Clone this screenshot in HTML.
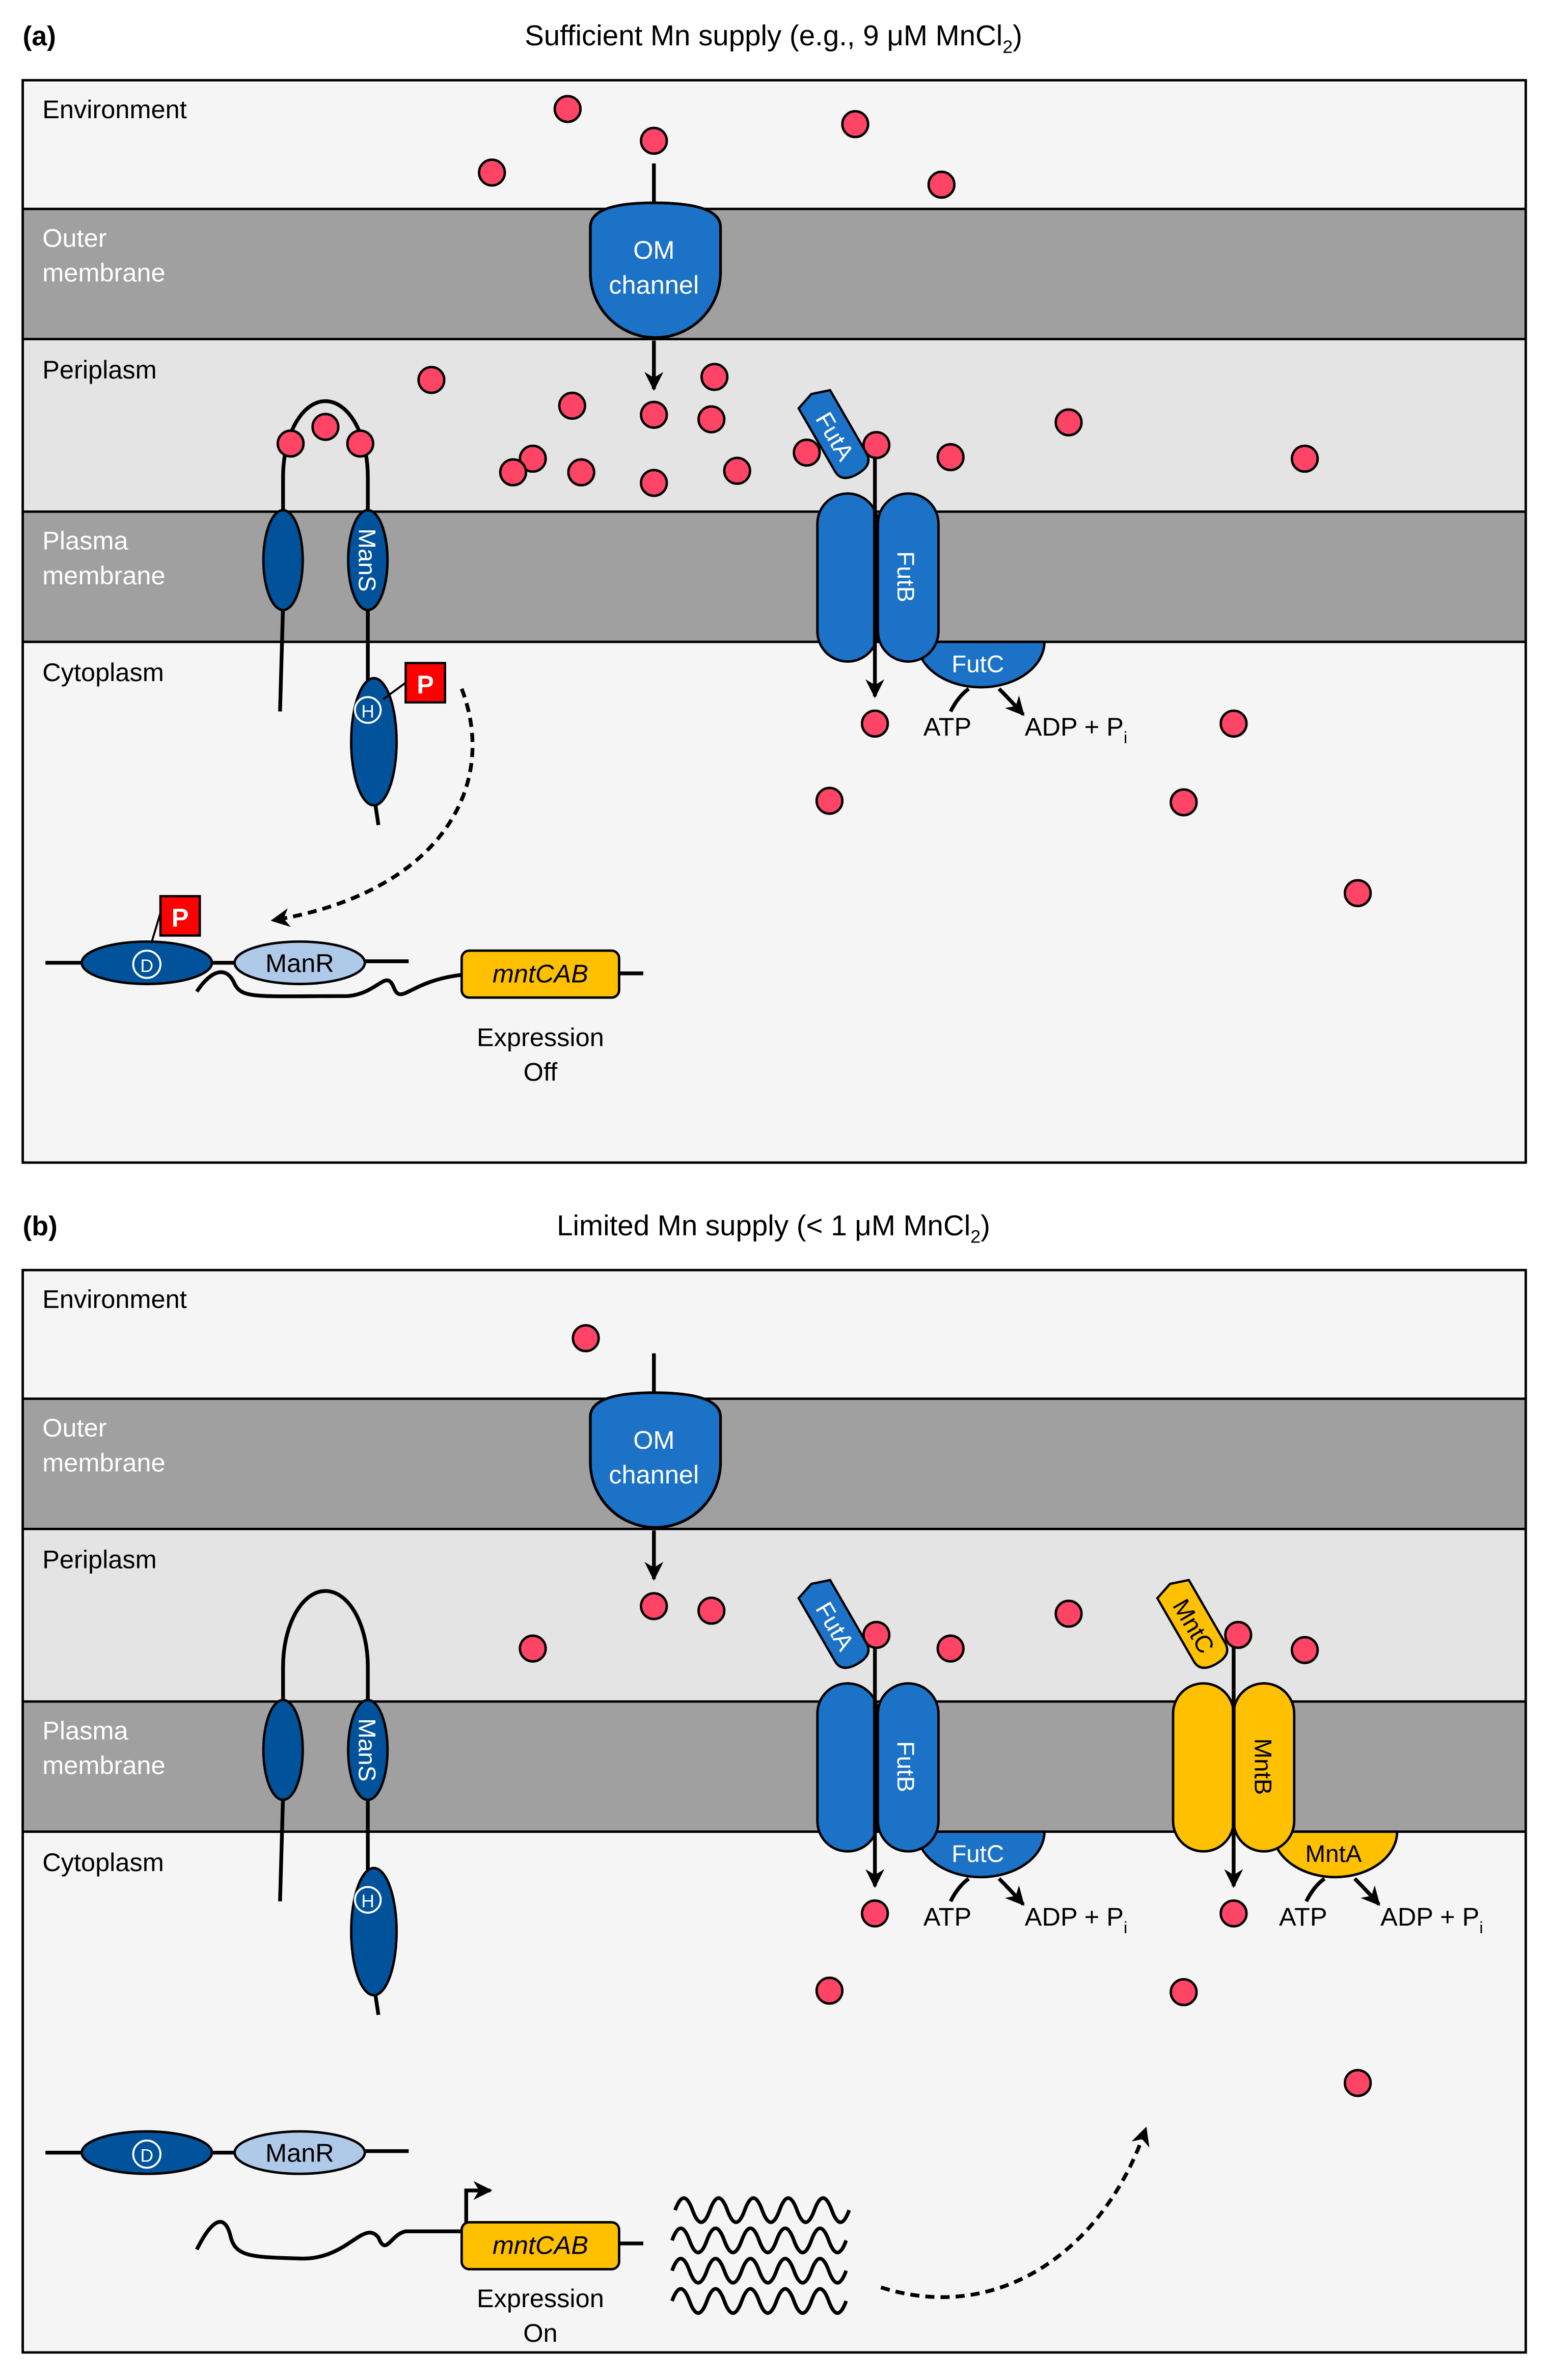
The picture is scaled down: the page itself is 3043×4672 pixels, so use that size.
<!DOCTYPE html>
<html><head><meta charset="utf-8"><style>html,body{margin:0;padding:0;background:#fff}svg{display:block}text{font-family:"Liberation Sans",sans-serif}</style></head><body>
<svg width="3043" height="4672" viewBox="0 0 1024 1572.2" xmlns="http://www.w3.org/2000/svg">
<defs>
<marker id="ah" viewBox="0 0 10 10" refX="9" refY="5" markerWidth="5" markerHeight="5" orient="auto"><path d="M0,0 L10,5 L0,10 L3,5 Z" fill="#000"/></marker>
<g id="dot"><circle r="8.5" fill="#ff4466" stroke="#000" stroke-width="1.6"/></g>
<path id="wave" d="M0,0 q5.75,-16 11.5,0 t11.5,0 t11.5,0 t11.5,0 t11.5,0 t11.5,0 t11.5,0 t11.5,0 t11.5,0 t11.5,0" fill="none" stroke="#000" stroke-width="2.4"/>
<g id="base">
<rect x="15" y="53" width="993" height="715" fill="#f5f5f5"/>
<rect x="15" y="138" width="993" height="86" fill="#a0a0a0"/>
<rect x="15" y="224" width="993" height="114" fill="#e4e4e4"/>
<rect x="15" y="338" width="993" height="86" fill="#a0a0a0"/>
<g stroke="#000" stroke-width="1.6"><line x1="15" y1="138" x2="1008" y2="138"/><line x1="15" y1="224" x2="1008" y2="224"/><line x1="15" y1="338" x2="1008" y2="338"/><line x1="15" y1="424" x2="1008" y2="424"/></g>
<rect x="15" y="53" width="993" height="715" fill="none" stroke="#000" stroke-width="1.6"/>
<g font-size="17"><text x="28" y="78">Environment</text><text x="28" y="163" fill="#fff">Outer</text><text x="28" y="186" fill="#fff">membrane</text><text x="28" y="250">Periplasm</text><text x="28" y="363" fill="#fff">Plasma</text><text x="28" y="386" fill="#fff">membrane</text><text x="28" y="450">Cytoplasm</text></g>
<line x1="432" y1="108" x2="432" y2="138" stroke="#000" stroke-width="2.5"/>
<path d="M390,150 Q390,134 432,134 Q476,134 476,150 L476,180 A43,43 0 0 1 390,180 Z" fill="#1b72c6" stroke="#000" stroke-width="1.8"/>
<text x="432" y="171" font-size="17" fill="#fff" text-anchor="middle">OM</text><text x="432" y="194" font-size="17" fill="#fff" text-anchor="middle">channel</text>
<line x1="432" y1="225" x2="432" y2="257" stroke="#000" stroke-width="2.5" marker-end="url(#ah)"/>
<path d="M187,342 L187,315 A28,50 0 0 1 243,315 L243,342" fill="none" stroke="#000" stroke-width="2.5"/>
<line x1="187" y1="400" x2="185" y2="470" stroke="#000" stroke-width="2.5"/>
<line x1="243" y1="400" x2="243" y2="452" stroke="#000" stroke-width="2.5"/>
<line x1="247" y1="525" x2="250" y2="545" stroke="#000" stroke-width="2.5"/>
<ellipse cx="187" cy="370" rx="13" ry="33" fill="#00529b" stroke="#000" stroke-width="1.6"/>
<ellipse cx="243" cy="370" rx="13" ry="33" fill="#00529b" stroke="#000" stroke-width="1.6"/>
<text transform="translate(237,370) rotate(90)" font-size="16" fill="#fff" text-anchor="middle">ManS</text>
<ellipse cx="247" cy="490" rx="15" ry="42" fill="#00529b" stroke="#000" stroke-width="1.6"/>
<circle cx="243" cy="469" r="8.5" fill="#00529b" stroke="#fff" stroke-width="1.3"/><text x="243" y="474" font-size="12" fill="#fff" text-anchor="middle">H</text>
<path d="M606,424 L690,424 A42,30 0 0 1 606,424 Z" fill="#1b72c6" stroke="#000" stroke-width="1.6"/>
<text x="646" y="444" font-size="16" fill="#fff" text-anchor="middle">FutC</text>
<rect x="540" y="326" width="40" height="111" rx="20" fill="#1b72c6" stroke="#000" stroke-width="1.6"/>
<rect x="580" y="326" width="40" height="111" rx="20" fill="#1b72c6" stroke="#000" stroke-width="1.6"/>
<line x1="578" y1="300" x2="578" y2="460" stroke="#000" stroke-width="2.5" marker-end="url(#ah)"/>
<text transform="translate(593,381) rotate(90)" font-size="16" fill="#fff" text-anchor="middle">FutB</text>
<use href="#dot" x="579" y="294"/>
<g transform="translate(552,288) rotate(60)"><path d="M-28,-12 L20,-12 Q29,-12 29,0 Q29,12 20,12 L-28,12 L-32,0 Z" fill="#1b72c6" stroke="#000" stroke-width="1.5"/><text x="0" y="6" font-size="16" fill="#fff" text-anchor="middle">FutA</text></g>
<path d="M640,455 Q633,460 628,470" fill="none" stroke="#000" stroke-width="2.5"/>
<path d="M660,455 Q668,463 676,472" fill="none" stroke="#000" stroke-width="2.5" marker-end="url(#ah)"/>
<use href="#dot" x="578" y="478"/>
<text x="610" y="486" font-size="17">ATP</text>
<text x="677" y="486" font-size="17">ADP + P<tspan font-size="11" dy="5">i</tspan></text>
<use href="#dot" x="548" y="529"/><use href="#dot" x="782" y="530"/><use href="#dot" x="897" y="590"/>
<line x1="30" y1="636" x2="55" y2="636" stroke="#000" stroke-width="2.5"/>
<line x1="140" y1="636" x2="155" y2="636" stroke="#000" stroke-width="2.5"/>
<line x1="240" y1="635" x2="270" y2="635" stroke="#000" stroke-width="2.5"/>
<ellipse cx="97" cy="636" rx="43" ry="14" fill="#00529b" stroke="#000" stroke-width="1.6"/>
<circle cx="97" cy="637" r="9" fill="#00529b" stroke="#fff" stroke-width="1.3"/><text x="97" y="642" font-size="12" fill="#fff" text-anchor="middle">D</text>
<ellipse cx="198" cy="636" rx="43" ry="14" fill="#afc9e9" stroke="#000" stroke-width="1.6"/>
<text x="198" y="642" font-size="17" text-anchor="middle">ManR</text>
</g>
</defs>

<use href="#base"/>
<text x="15" y="30" font-size="18" font-weight="bold">(a)</text>
<text x="511" y="30" font-size="19" text-anchor="middle">Sufficient Mn supply (e.g., 9 μM MnCl<tspan font-size="12" dy="5">2</tspan><tspan dy="-5">)</tspan></text>
<g>
<use href="#dot" x="375" y="72"/><use href="#dot" x="432" y="93"/><use href="#dot" x="565" y="82"/><use href="#dot" x="325" y="114"/><use href="#dot" x="622" y="122"/>
<use href="#dot" x="285" y="251"/><use href="#dot" x="378" y="268"/><use href="#dot" x="432" y="274"/><use href="#dot" x="472" y="249"/><use href="#dot" x="470" y="277"/>
<use href="#dot" x="352" y="303"/><use href="#dot" x="339" y="312"/><use href="#dot" x="384" y="312"/><use href="#dot" x="432" y="319"/><use href="#dot" x="487" y="311"/>
<use href="#dot" x="533" y="299"/><use href="#dot" x="628" y="302"/><use href="#dot" x="706" y="279"/><use href="#dot" x="862" y="303"/>
<use href="#dot" x="192" y="293"/><use href="#dot" x="215" y="282"/><use href="#dot" x="238" y="293"/>
<use href="#dot" x="815" y="478"/>
</g>
<line x1="253" y1="462" x2="268" y2="451" stroke="#000" stroke-width="1.3"/>
<rect x="268" y="438" width="26" height="26" fill="#f00" stroke="#000" stroke-width="1.5"/><text x="281" y="458" font-size="17" font-weight="bold" fill="#fff" text-anchor="middle">P</text>
<line x1="100" y1="623" x2="106" y2="603" stroke="#000" stroke-width="1.3"/>
<rect x="106" y="592" width="26" height="26" fill="#f00" stroke="#000" stroke-width="1.5"/><text x="119" y="612" font-size="17" font-weight="bold" fill="#fff" text-anchor="middle">P</text>
<path d="M305,455 C330,520 290,590 180,608" fill="none" stroke="#000" stroke-width="2.5" stroke-dasharray="6,4" marker-end="url(#ah)"/>
<path d="M130,655 C140,640 150,638 155,650 C160,660 170,658 230,658 C250,656 255,640 260,652 C265,665 270,648 305,644" fill="none" stroke="#000" stroke-width="2.5"/>
<line x1="409" y1="643" x2="425" y2="643" stroke="#000" stroke-width="2.5"/>
<rect x="305" y="628" width="104" height="31" rx="5" fill="#ffc000" stroke="#000" stroke-width="1.6"/>
<text x="357" y="649" font-size="17" font-style="italic" text-anchor="middle">mntCAB</text>
<text x="357" y="691" font-size="17" text-anchor="middle">Expression</text>
<text x="357" y="714" font-size="17" text-anchor="middle">Off</text>

<text x="15" y="816" font-size="18" font-weight="bold">(b)</text>
<text x="511" y="816" font-size="19" text-anchor="middle">Limited Mn supply (&lt; 1 μM MnCl<tspan font-size="12" dy="5">2</tspan><tspan dy="-5">)</tspan></text>
<g transform="translate(0,786)">
<use href="#base"/>
<use href="#dot" x="387" y="98"/><use href="#dot" x="432" y="275"/><use href="#dot" x="470" y="278"/><use href="#dot" x="352" y="303"/>
<use href="#dot" x="628" y="303"/><use href="#dot" x="706" y="280"/><use href="#dot" x="862" y="304"/>
<path d="M841,424 L923,424 A41,30 0 0 1 841,424 Z" fill="#ffc000" stroke="#000" stroke-width="1.6"/>
<text x="881" y="444" font-size="16" text-anchor="middle">MntA</text>
<rect x="775" y="326" width="40" height="111" rx="20" fill="#ffc000" stroke="#000" stroke-width="1.6"/>
<rect x="815" y="326" width="40" height="111" rx="20" fill="#ffc000" stroke="#000" stroke-width="1.6"/>
<line x1="815" y1="300" x2="815" y2="460" stroke="#000" stroke-width="2.5" marker-end="url(#ah)"/>
<text transform="translate(829,381) rotate(90)" font-size="16" text-anchor="middle">MntB</text>
<use href="#dot" x="818" y="294"/>
<g transform="translate(789,288) rotate(60)"><path d="M-28,-12 L20,-12 Q29,-12 29,0 Q29,12 20,12 L-28,12 L-32,0 Z" fill="#ffc000" stroke="#000" stroke-width="1.5"/><text x="0" y="6" font-size="16" text-anchor="middle">MntC</text></g>
<path d="M875,455 Q868,460 863,470" fill="none" stroke="#000" stroke-width="2.5"/>
<path d="M895,455 Q903,463 911,472" fill="none" stroke="#000" stroke-width="2.5" marker-end="url(#ah)"/>
<use href="#dot" x="815" y="478"/>
<text x="845" y="486" font-size="17">ATP</text>
<text x="912" y="486" font-size="17">ADP + P<tspan font-size="11" dy="5">i</tspan></text>
<path d="M130,700 C140,680 148,676 152,690 C155,705 165,705 200,706 C230,706 240,680 250,692 C255,705 258,690 268,688 L305,688" fill="none" stroke="#000" stroke-width="2.5"/>
<rect x="305" y="682" width="104" height="31" rx="5" fill="#ffc000" stroke="#000" stroke-width="1.6"/>
<text x="357" y="703" font-size="17" font-style="italic" text-anchor="middle">mntCAB</text>
<line x1="409" y1="696" x2="425" y2="696" stroke="#000" stroke-width="2.5"/>
<path d="M308,682 L308,661 L324,661" fill="none" stroke="#000" stroke-width="2.5" marker-end="url(#ah)"/>
<text x="357" y="738" font-size="17" text-anchor="middle">Expression</text>
<text x="357" y="761" font-size="17" text-anchor="middle">On</text>
<use href="#wave" x="446" y="674"/>
<use href="#wave" x="444" y="694"/>
<use href="#wave" x="444" y="714"/>
<use href="#wave" x="444" y="734"/>
<path d="M582,725 C660,750 730,700 757,620" fill="none" stroke="#000" stroke-width="2.5" stroke-dasharray="6,4" marker-end="url(#ah)"/>
</g>
</svg>
</body></html>
